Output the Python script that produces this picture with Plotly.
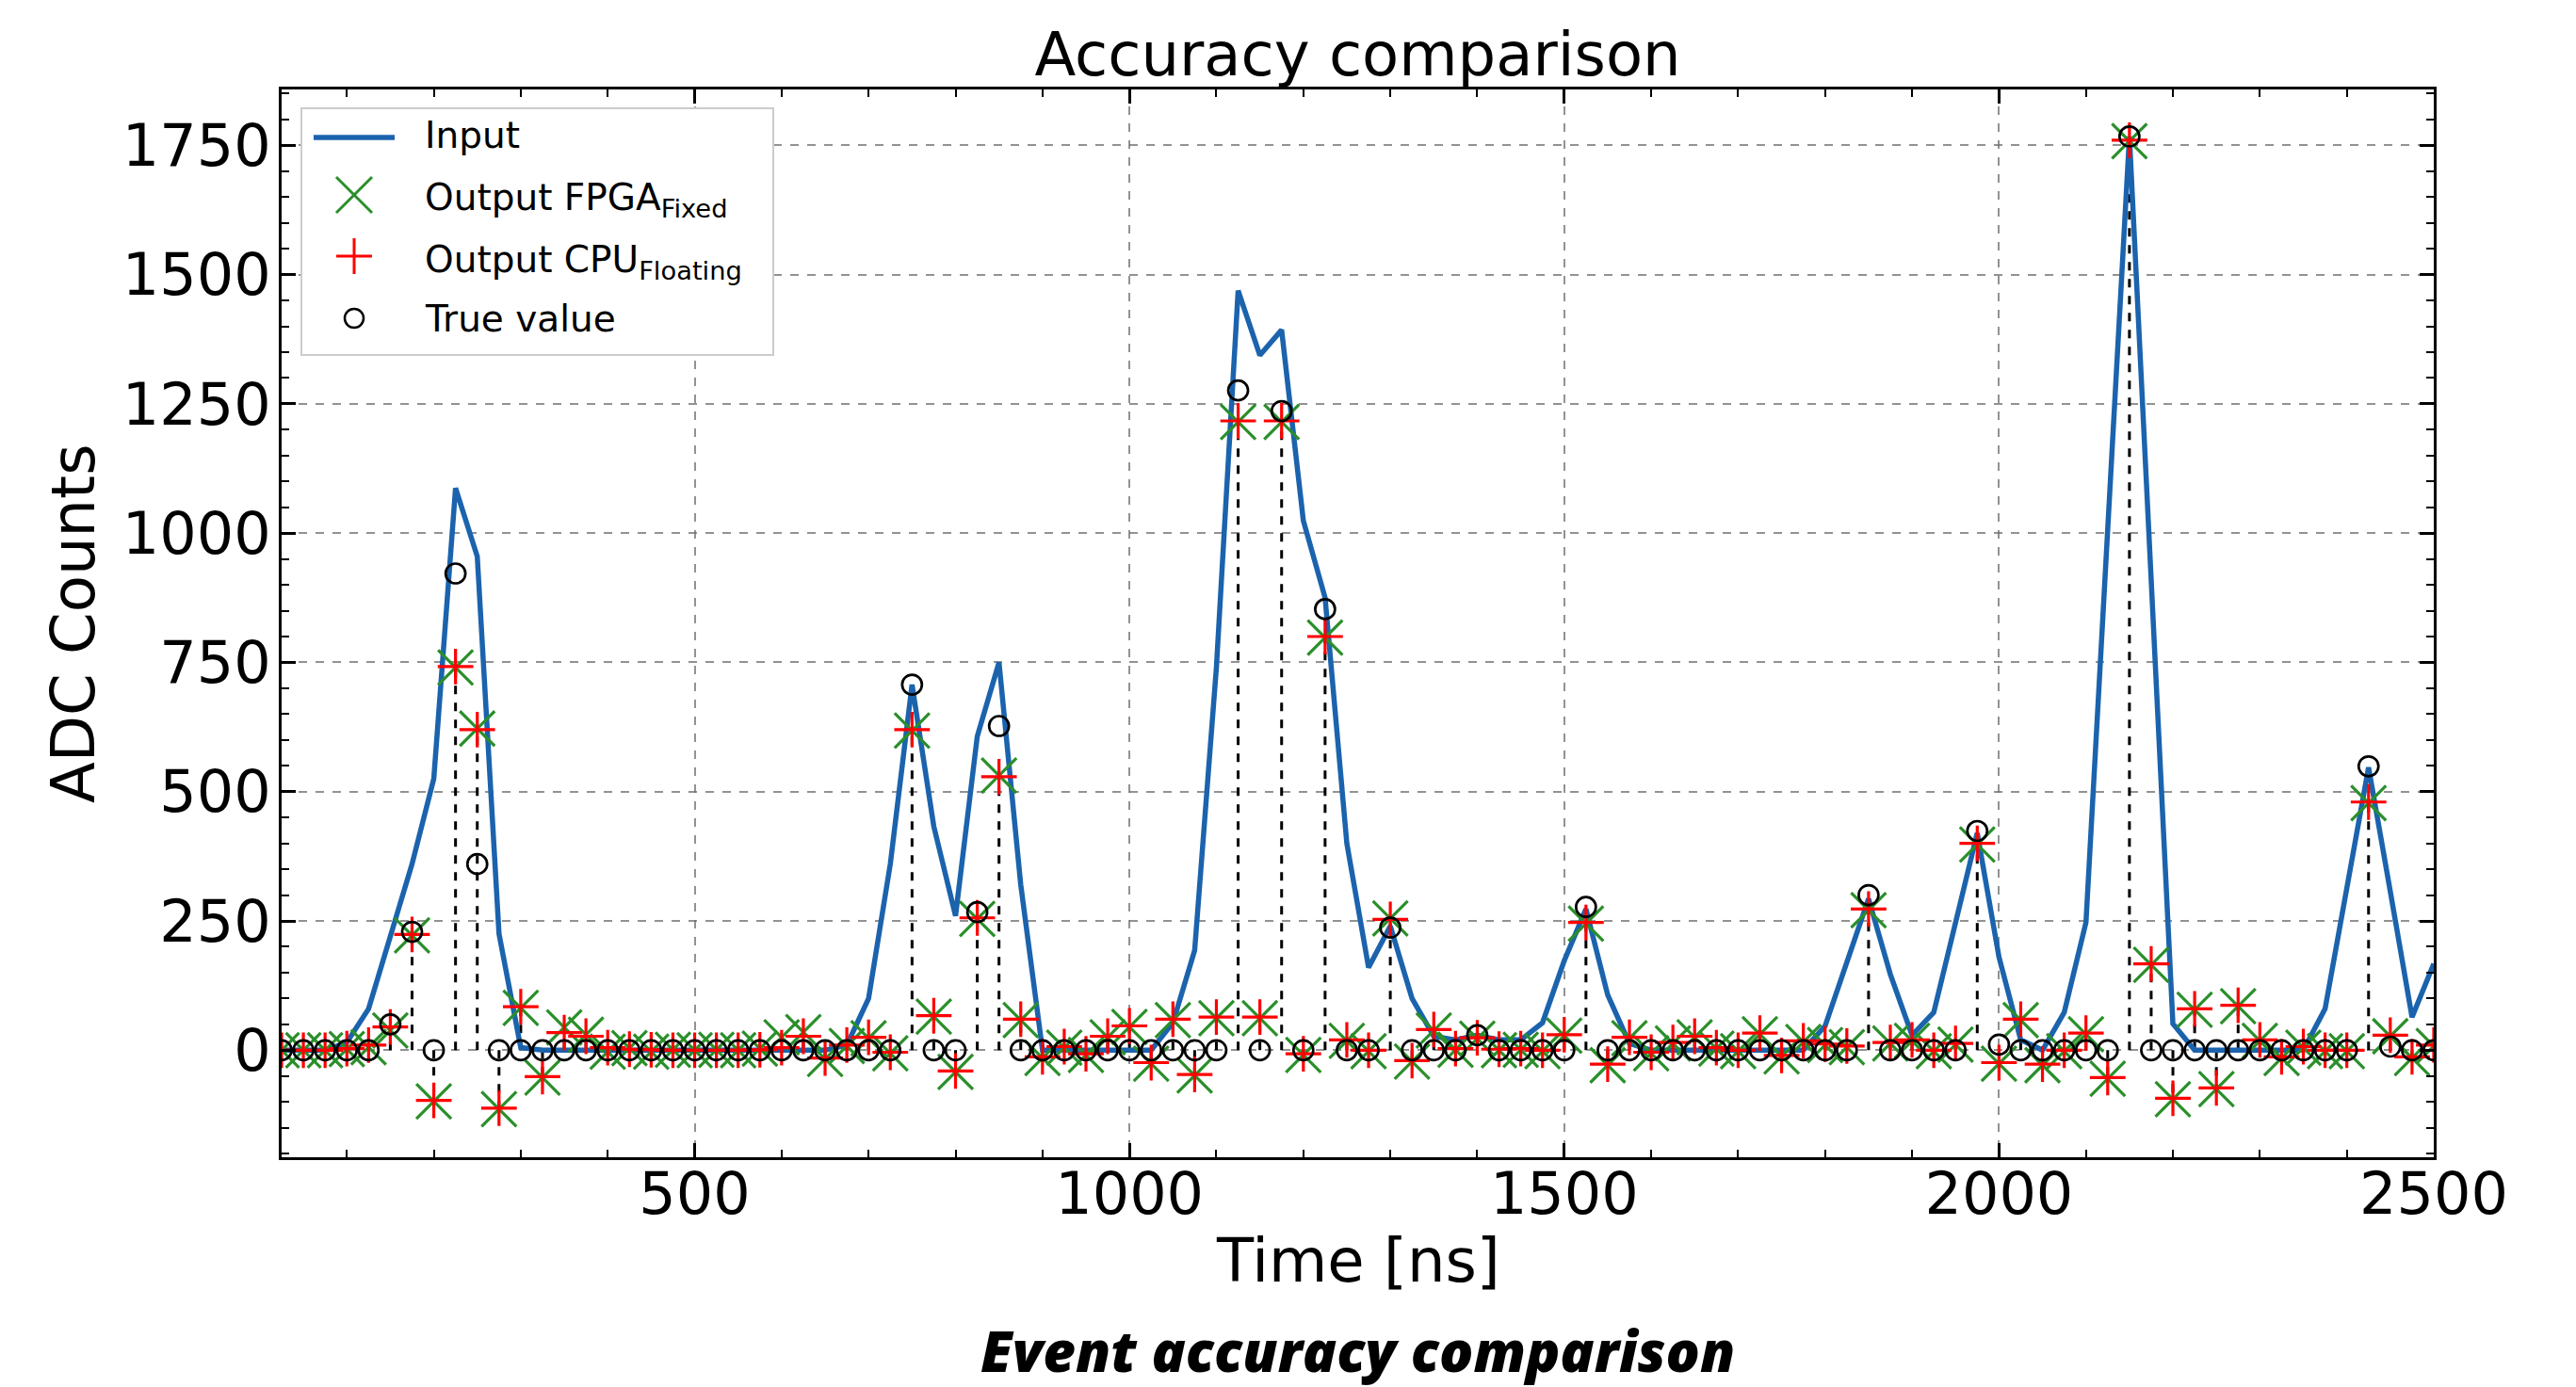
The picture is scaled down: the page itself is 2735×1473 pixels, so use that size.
import plotly.graph_objects as go

# ---- data ----
time_ns = [25 * (i + 1) for i in range(100)]

input_adc = [
    0, 0, 0, 15, 80, 220, 360, 525, 1087, 955,          # 25-250
    225, 5, 0, 0, 0, 0, 0, 0, 0, 0,                     # 275-500
    0, 0, 0, 0, 0, 0, 10, 100, 360, 707,                # 525-750
    433, 260, 607, 750, 320, 0, 0, 0, 0, 0,             # 775-1000
    0, 53, 193, 740, 1469, 1344, 1393, 1024, 875, 400,  # 1025-1250
    160, 240, 100, 27, 20, 29, 20, 20, 53, 173,         # 1275-1500
    273, 107, 13, 0, 0, 0, 0, 0, 0, 0,                  # 1525-1750
    0, 47, 173, 293, 147, 29, 73, 247, 420, 180,        # 1775-2000
    20, 0, 73, 247, 1000, 1767, 910, 51, 0, 0,          # 2025-2250
    0, 0, 0, 0, 80, 313, 547, 307, 64, 167,             # 2275-2500
]

true_value = [
    0, 0, 0, 0, 0, 50, 229, 0, 922, 360,
    0, 0, 0, 0, 0, 0, 0, 0, 0, 0,
    0, 0, 0, 0, 0, 0, 0, 0, 0, 707,
    0, 0, 267, 627, 0, 0, 0, 0, 0, 0,
    0, 0, 0, 0, 1276, 0, 1236, 0, 853, 0,
    0, 237, 0, 0, 0, 29, 0, 0, 0, 0,
    277, 0, 0, 0, 0, 0, 0, 0, 0, 0,
    0, 0, 0, 300, 0, 0, 0, 0, 424, 11,
    0, 0, 0, 0, 0, 1767, 0, 0, 0, 0,
    0, 0, 0, 0, 0, 0, 549, 7, 0, 0,
]

output_cpu = [
    0, 0, 0, 3, 10, 45, 224, -97, 742, 620,
    -112, 84, -51, 34, 27, 5, 2, 1, 0, 0,
    0, 0, 1, 5, 27, -15, 10, 25, -4, 620,
    67, -40, 256, 529, 60, -13, 7, -7, 27, 47,
    -24, 60, -47, 64, 1217, 64, 1217, -7, 800, 20,
    0, 253, -20, 40, 3, 24, 2, 3, 0, 30,
    247, -27, 25, -4, 15, 27, 5, 0, 33, -10,
    18, 12, 8, 273, 15, 20, 0, 13, 400, -24,
    60, -27, 0, 33, -53, 1760, 167, -93, 80, -73,
    87, 20, -13, 7, 0, 0, 480, 29, -13, 10,
]

output_fpga = [
    0, 0, 0, 2, 6, 38, 222, -99, 740, 622,
    -114, 82, -53, 44, 30, -3, 4, -3, 1, 0,
    1, 0, 3, 25, 35, -17, 8, 23, -6, 618,
    65, -42, 254, 531, 58, -15, 5, -9, 25, 45,
    -26, 58, -49, 62, 1215, 62, 1215, -9, 798, 18,
    -2, 255, -22, 38, 1, 22, 0, 1, -2, 28,
    245, -29, 23, -6, 13, 25, 3, -2, 31, -12,
    16, 10, 6, 271, 13, 18, -2, 11, 398, -26,
    58, -29, -2, 31, -55, 1758, 165, -95, 78, -75,
    85, 18, -15, 5, -2, -2, 478, 27, -15, 8,
]

legend_labels = ["Input", "Output FPGA<sub>Fixed</sub>",
                 "Output CPU<sub>Floating</sub>", "True value"]

# ---- stems (from 0 to output value), built from the data ----
stem_x, stem_y = [], []
for t, v in zip(time_ns, output_cpu):
    stem_x += [t, t, None]
    stem_y += [0, v, None]

FONT = "DejaVu Sans"
BLUE, GREEN, RED = "#1b63ad", "#2a8f2a", "#ff0000"

# the page has an 8px body margin, so the figure is 8px smaller than the window
W, H = 2727, 1465
ML, MR, MT, MB = 291, 151, 87, 244
PW, PH = W - ML - MR, H - MT - MB
OFF = 8  # page offset of the figure


def px(x):  # reference (page) pixel -> paper x
    return (x - OFF - ML) / PW


def py(y):  # reference (page) pixel -> paper y
    return (H - MB - (y - OFF)) / PH


fig = go.Figure()

fig.add_trace(go.Scatter(
    x=stem_x, y=stem_y, mode="lines",
    line=dict(color="black", width=3, dash="dash"),
    showlegend=False, hoverinfo="skip",
))
fig.add_trace(go.Scatter(
    x=time_ns, y=input_adc, mode="lines", name=legend_labels[0],
    line=dict(color=BLUE, width=5.5), showlegend=False,
))
fig.add_trace(go.Scatter(
    x=time_ns, y=output_fpga, mode="markers", name=legend_labels[1],
    marker=dict(symbol="x-thin", size=37, color=GREEN,
                line=dict(color=GREEN, width=3.2)),
    showlegend=False,
))
fig.add_trace(go.Scatter(
    x=time_ns, y=output_cpu, mode="markers", name=legend_labels[2],
    marker=dict(symbol="cross-thin", size=27, color=RED,
                line=dict(color=RED, width=3.2)),
    showlegend=False,
))
fig.add_trace(go.Scatter(
    x=time_ns, y=true_value, mode="markers", name=legend_labels[3],
    marker=dict(symbol="circle-open", size=21, color="black",
                line=dict(color="black", width=2.7)),
    showlegend=False,
))

axis_common = dict(
    showline=True, linecolor="black", linewidth=3, mirror="allticks",
    ticks="inside", ticklen=15, tickwidth=2.5, tickcolor="black",
    showgrid=True, gridcolor="rgba(110,110,110,0.75)", gridwidth=2,
    griddash="dash", zeroline=False, automargin=False,
    tickfont=dict(family=FONT, size=62, color="black"),
)

fig.update_xaxes(
    range=[25, 2500], tickmode="array", tickvals=[500, 1000, 1500, 2000, 2500],
    minor=dict(ticks="inside", dtick=100, tick0=0, ticklen=8, tickwidth=2,
               tickcolor="black", showgrid=False),
    ticklabelstandoff=-17,
    **axis_common,
)
fig.update_yaxes(
    range=[-207, 1858], tickmode="array",
    tickvals=[0, 250, 500, 750, 1000, 1250, 1500, 1750],
    minor=dict(ticks="inside", dtick=50, tick0=0, ticklen=8, tickwidth=2,
               tickcolor="black", showgrid=False),
    ticklabelstandoff=-4,
    **axis_common,
)

# ---- hand-drawn legend (large symbols like the reference) ----
shapes = [
    dict(type="rect", xref="paper", yref="paper", layer="above",
         x0=px(320), x1=px(821), y0=py(377), y1=py(115),
         fillcolor="white", line=dict(color="#cccccc", width=2)),
    dict(type="line", xref="paper", yref="paper", layer="above",
         x0=px(333), x1=px(419), y0=py(146), y1=py(146),
         line=dict(color=BLUE, width=5.5)),
    dict(type="line", xref="paper", yref="paper", layer="above",
         x0=px(357), x1=px(395), y0=py(188), y1=py(226),
         line=dict(color=GREEN, width=3)),
    dict(type="line", xref="paper", yref="paper", layer="above",
         x0=px(357), x1=px(395), y0=py(226), y1=py(188),
         line=dict(color=GREEN, width=3)),
    dict(type="line", xref="paper", yref="paper", layer="above",
         x0=px(376), x1=px(376), y0=py(253), y1=py(291),
         line=dict(color=RED, width=3)),
    dict(type="line", xref="paper", yref="paper", layer="above",
         x0=px(357), x1=px(395), y0=py(272), y1=py(272),
         line=dict(color=RED, width=3)),
    dict(type="circle", xref="paper", yref="paper", layer="above",
         x0=px(366), x1=px(386), y0=py(348), y1=py(328),
         line=dict(color="black", width=2.5)),
]

legend_rows_y = [144, 212, 278, 338]
annotations = []
for label, yy in zip(legend_labels, legend_rows_y):
    annotations.append(dict(
        text=label, xref="paper", yref="paper", x=px(449), y=py(yy),
        xanchor="left", yanchor="middle", showarrow=False,
        font=dict(family=FONT, size=39, color="black"),
    ))

# axis titles
annotations.append(dict(
    text="Time [ns]", xref="paper", yref="paper", x=0.5, y=py(1339),
    xanchor="center", yanchor="middle", showarrow=False,
    font=dict(family=FONT, size=64, color="black"),
))
annotations.append(dict(
    text="ADC Counts", xref="paper", yref="paper", x=px(78), y=0.5,
    xanchor="center", yanchor="middle", showarrow=False, textangle=-90,
    font=dict(family=FONT, size=64, color="black"),
))

annotations.append(dict(
    text="Event accuracy comparison", xref="paper", yref="paper",
    x=0.5, y=py(1434), xanchor="center", yanchor="middle", showarrow=False,
    font=dict(family="Open Sans", size=60, color="black", weight=800,
              style="italic"),
))

fig.update_layout(
    width=W, height=H,
    margin=dict(l=ML, r=MR, t=MT, b=MB, autoexpand=False),
    paper_bgcolor="white", plot_bgcolor="white",
    title=dict(text="Accuracy comparison", x=0.5, xref="paper",
               y=1 - 50 / H, yref="container", yanchor="middle",
               font=dict(family=FONT, size=64, color="black")),
    shapes=shapes,
    annotations=annotations,
    showlegend=False,
)

fig.write_html("out.html")
